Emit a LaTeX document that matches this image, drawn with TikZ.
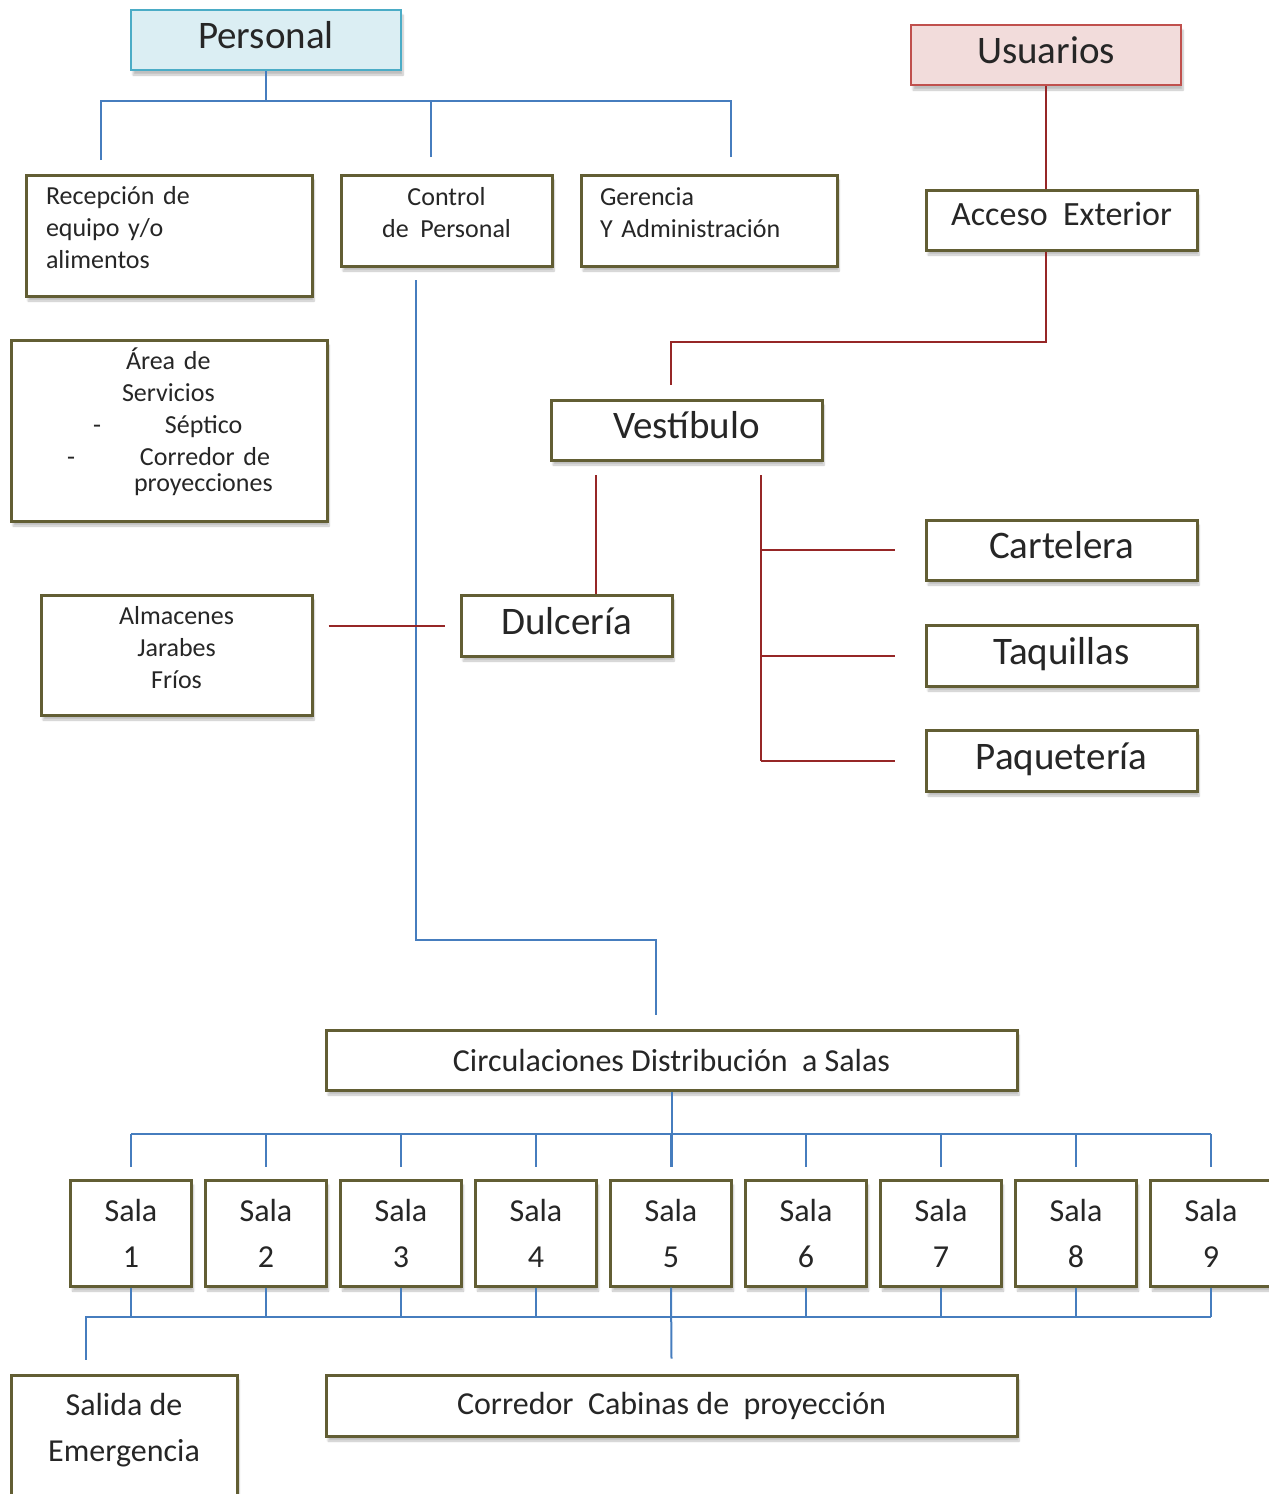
\documentclass[tikz,border=0pt]{standalone}
\usepackage{fontspec}
\setmainfont{Carlito}
\usetikzlibrary{shadows.blur}
\definecolor{olivebox}{RGB}{98,94,52}
\definecolor{bluelink}{RGB}{70,125,190}
\definecolor{redlink}{RGB}{150,38,38}
\definecolor{tealedge}{RGB}{75,172,198}
\definecolor{tealfill}{RGB}{219,238,243}
\definecolor{rosedge}{RGB}{192,80,77}
\definecolor{rosfill}{RGB}{242,220,219}
\begin{document}
\begin{tikzpicture}[x=1pt, y=-1pt,
    box/.style={draw=olivebox, line width=3pt, fill=white, inner sep=0pt, text=black!85,
      blur shadow={shadow xshift=2pt, shadow yshift=-5pt, shadow opacity=25, shadow blur steps=6}},
    small/.style={font=\fontsize{26}{32}\selectfont, execute at end node={\rule[-#1]{0pt}{0pt}}},
    small/.default=16pt,
    big/.style={font=\fontsize{39}{46}\selectfont, text height=27pt, text depth=9.5pt},
    mid/.style={font=\fontsize{32}{46}\selectfont},
    blue/.style={draw=bluelink, line width=2pt},
    red/.style={draw=redlink, line width=2pt}]
  \useasboundingbox (0,0) rectangle (1269,1494);
  % cabeceras
  \node[box, big, draw=tealedge, fill=tealfill, line width=2.5pt, minimum width=270, minimum height=60] (personal) at (266,40) {Personal};
  \node[box, big, draw=rosedge, fill=rosfill, line width=2.5pt, minimum width=270, minimum height=60] (usuarios) at (1046,55) {Usuarios};
  % personal
  \node[box, small, minimum width=286, minimum height=121, text width=246, align=left] (recep) at (169,235.5) {Recepción de\\equipo y/o\\alimentos};
  \node[box, small, minimum width=211, minimum height=91, align=center] (control) at (446.5,220.5) {Control\\de\ \ Personal};
  \node[box, small, minimum width=256, minimum height=91, text width=218, align=left] (gerencia) at (709,220.5) {Gerencia\\Y Administración};
  \node[box, small=21pt, minimum width=316, minimum height=181, text width=290, align=left] (servicios) at (169,430.5)
    {\hspace*{102pt}Área de\\\hspace*{98pt}Servicios\\\hspace*{69pt}-\hspace*{64pt}Séptico\\\hspace*{43pt}-\hspace*{65pt}Corredor de\\[-6pt]\hspace*{110pt}proyecciones};
  \node[box, small, minimum width=271, minimum height=120, align=center] (almacenes) at (176.5,655) {Almacenes\\Jarabes\\Fríos};
  % usuarios
  \node[box, font=\fontsize{34}{40}\selectfont, text height=24pt, text depth=14pt, minimum width=271, minimum height=60] (acceso) at (1061.5,220) {Acceso\ \ Exterior};
  \node[box, big, minimum width=271, minimum height=60] (vestibulo) at (686.5,430) {Vestíbulo};
  \node[box, big, minimum width=211, minimum height=61] (dulceria) at (566.5,625.5) {Dulcería};
  \node[box, big, minimum width=271, minimum height=60] (cartelera) at (1061.5,550) {Cartelera};
  \node[box, big, minimum width=271, minimum height=61] (taquillas) at (1061.5,655.5) {Taquillas};
  \node[box, big, minimum width=271, minimum height=61] (paqueteria) at (1061.5,760.5) {Paquetería};
  % salas
  \node[box, mid, minimum width=691, minimum height=60] (circ) at (671.5,1060) {Circulaciones Distribución\ \ a Salas};
  \foreach \i in {1,...,9}
    \node[box, mid, minimum width=121, minimum height=106, align=center] (s\i) at (131+135*\i-135,1233) {Sala\\\i};
  \node[box, mid, minimum width=226, minimum height=170, align=center,
    execute at end node={\rule[-65pt]{0pt}{0pt}}] (salida) at (124,1460) {Salida de\\Emergencia};
  \node[box, mid, minimum width=691, minimum height=61] (corredor) at (671.5,1405.5) {Corredor\ \ Cabinas de\ \ proyección};

  % lineas azules
  \coordinate (r1) at (101,160);
  \coordinate (c1) at (431,157);
  \coordinate (g1) at (731,157);
  \draw[blue] (personal.south) -- ++(0,30) coordinate (pbus);
  \draw[blue] (r1) |- (pbus);
  \draw[blue] (g1) |- (pbus);
  \draw[blue] (c1) -- (c1 |- pbus);
  \coordinate (ctl) at (416,280);
  \coordinate (cmid) at (536,940);
  \coordinate (cir) at (656,1015);
  \draw[blue] (ctl) |- (cmid) -| (cir);
  \draw[blue] (circ.south) -- ++(0,75);
  \draw[blue] ([yshift=45pt]s1.north) -- ([yshift=45pt]s9.north);
  \foreach \i in {1,...,9} {
    \draw[blue] ([yshift=12pt]s\i.north) -- ([yshift=45pt]s\i.north);
    \draw[blue] (s\i.south) -- ([yshift=-29pt]s\i.south);
  }
  \coordinate (emer) at (86,1360);
  \draw[blue] ([yshift=-29pt]s9.south) -| (emer);
  \draw[blue] (s5.south) -- ([yshift=15pt]corredor.north);

  % lineas rojas
  \draw[red] (usuarios.south) -- (usuarios.south |- acceso.north);
  \coordinate (vtop) at (671,385);
  \draw[red] (usuarios.south |- acceso.south) -- ++(0,90) -| (vtop);
  \coordinate (vd) at (596,475);
  \draw[red] (vd) -- (vd |- dulceria.north);
  \coordinate (vr) at (761,475);
  \draw[red] (vr) -- (vr |- paqueteria);
  \foreach \n in {cartelera,taquillas,paqueteria}
    \draw[red] (vr |- \n) -- ([xshift=-30pt]\n.west);
  \draw[red] ([xshift=15pt]almacenes.east |- dulceria) -- ([xshift=-15pt]dulceria.west);
\end{tikzpicture}
\end{document}
